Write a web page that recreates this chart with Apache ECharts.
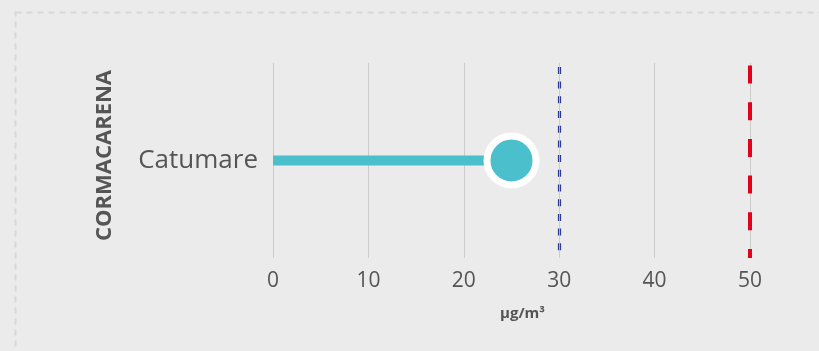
<!DOCTYPE html>
<html><head><meta charset="utf-8">
<script src="https://cdn.jsdelivr.net/npm/echarts@6/dist/echarts.min.js"></script>
<style>html,body{margin:0;padding:0;background:#ebebeb;}#c{width:819px;height:351px;}</style>
</head><body><div id="c"></div>
<script>
const categories = ["Catumare"];
const values = [25];
const groupName = "CORMACARENA";
const unitName = "µg/m³";
const guideline = 30;
const limit = 50;
const xTicks = [0, 10, 20, 30, 40, 50];

const chart = echarts.init(document.getElementById('c'));
const font = '"Open Sans", sans-serif';
chart.setOption({
  backgroundColor: '#ebebeb',
  animation: false,
  graphic: [{
    type: 'rect', left: 13, top: 10, silent: true,
    shape: { width: 900, height: 400 },
    style: { fill: 'none', stroke: '#d8d8d8', lineWidth: 2, lineDash: [6, 5] }
  }],
  grid: { left: 273, right: 69, top: 63, bottom: 93 },
  xAxis: {
    type: 'value', min: xTicks[0], max: xTicks[xTicks.length - 1], interval: 10,
    name: unitName, nameLocation: 'middle', nameGap: 48,
    nameTextStyle: { fontFamily: font, fontSize: 15, fontWeight: 'bold', color: '#555', padding: [0, 0, 0, 22] },
    axisLine: { show: false }, axisTick: { show: false },
    axisLabel: { fontFamily: font, fontSize: 21, color: '#555', margin: 13 },
    splitLine: { lineStyle: { color: '#cccccc', width: 1 } }
  },
  yAxis: {
    type: 'category', data: categories,
    name: groupName, nameLocation: 'middle', nameRotate: 90, nameGap: 157,
    nameTextStyle: { fontFamily: font, fontSize: 22, fontWeight: 'bold', color: '#555', padding: [0, 0, 0, 10] },
    axisLine: { show: false }, axisTick: { show: false },
    axisLabel: { fontFamily: font, fontSize: 26, color: '#555', margin: 15 }
  },
  series: [
    {
      type: 'bar', data: values, barWidth: 10, itemStyle: { color: '#4bc0cc' }, z: 2,
      markLine: {
        silent: true, symbol: 'none', label: { show: false },
        data: [
          { xAxis: guideline - 0.12, lineStyle: { color: '#2b3990', width: 1.2, type: [7, 7.7], dashOffset: 7 } },
          { xAxis: guideline + 0.12, lineStyle: { color: '#2b3990', width: 1.2, type: [7, 7.7], dashOffset: 7 } },
          { xAxis: limit, lineStyle: { color: '#e3001b', width: 4, type: [18, 18.7], dashOffset: 9 } }
        ]
      }
    },
    {
      type: 'scatter', data: values, symbolSize: 49, z: 3,
      itemStyle: { color: '#4bc0cc', borderColor: '#ffffff', borderWidth: 7, opacity: 1 }
    }
  ]
});
</script></body></html>
